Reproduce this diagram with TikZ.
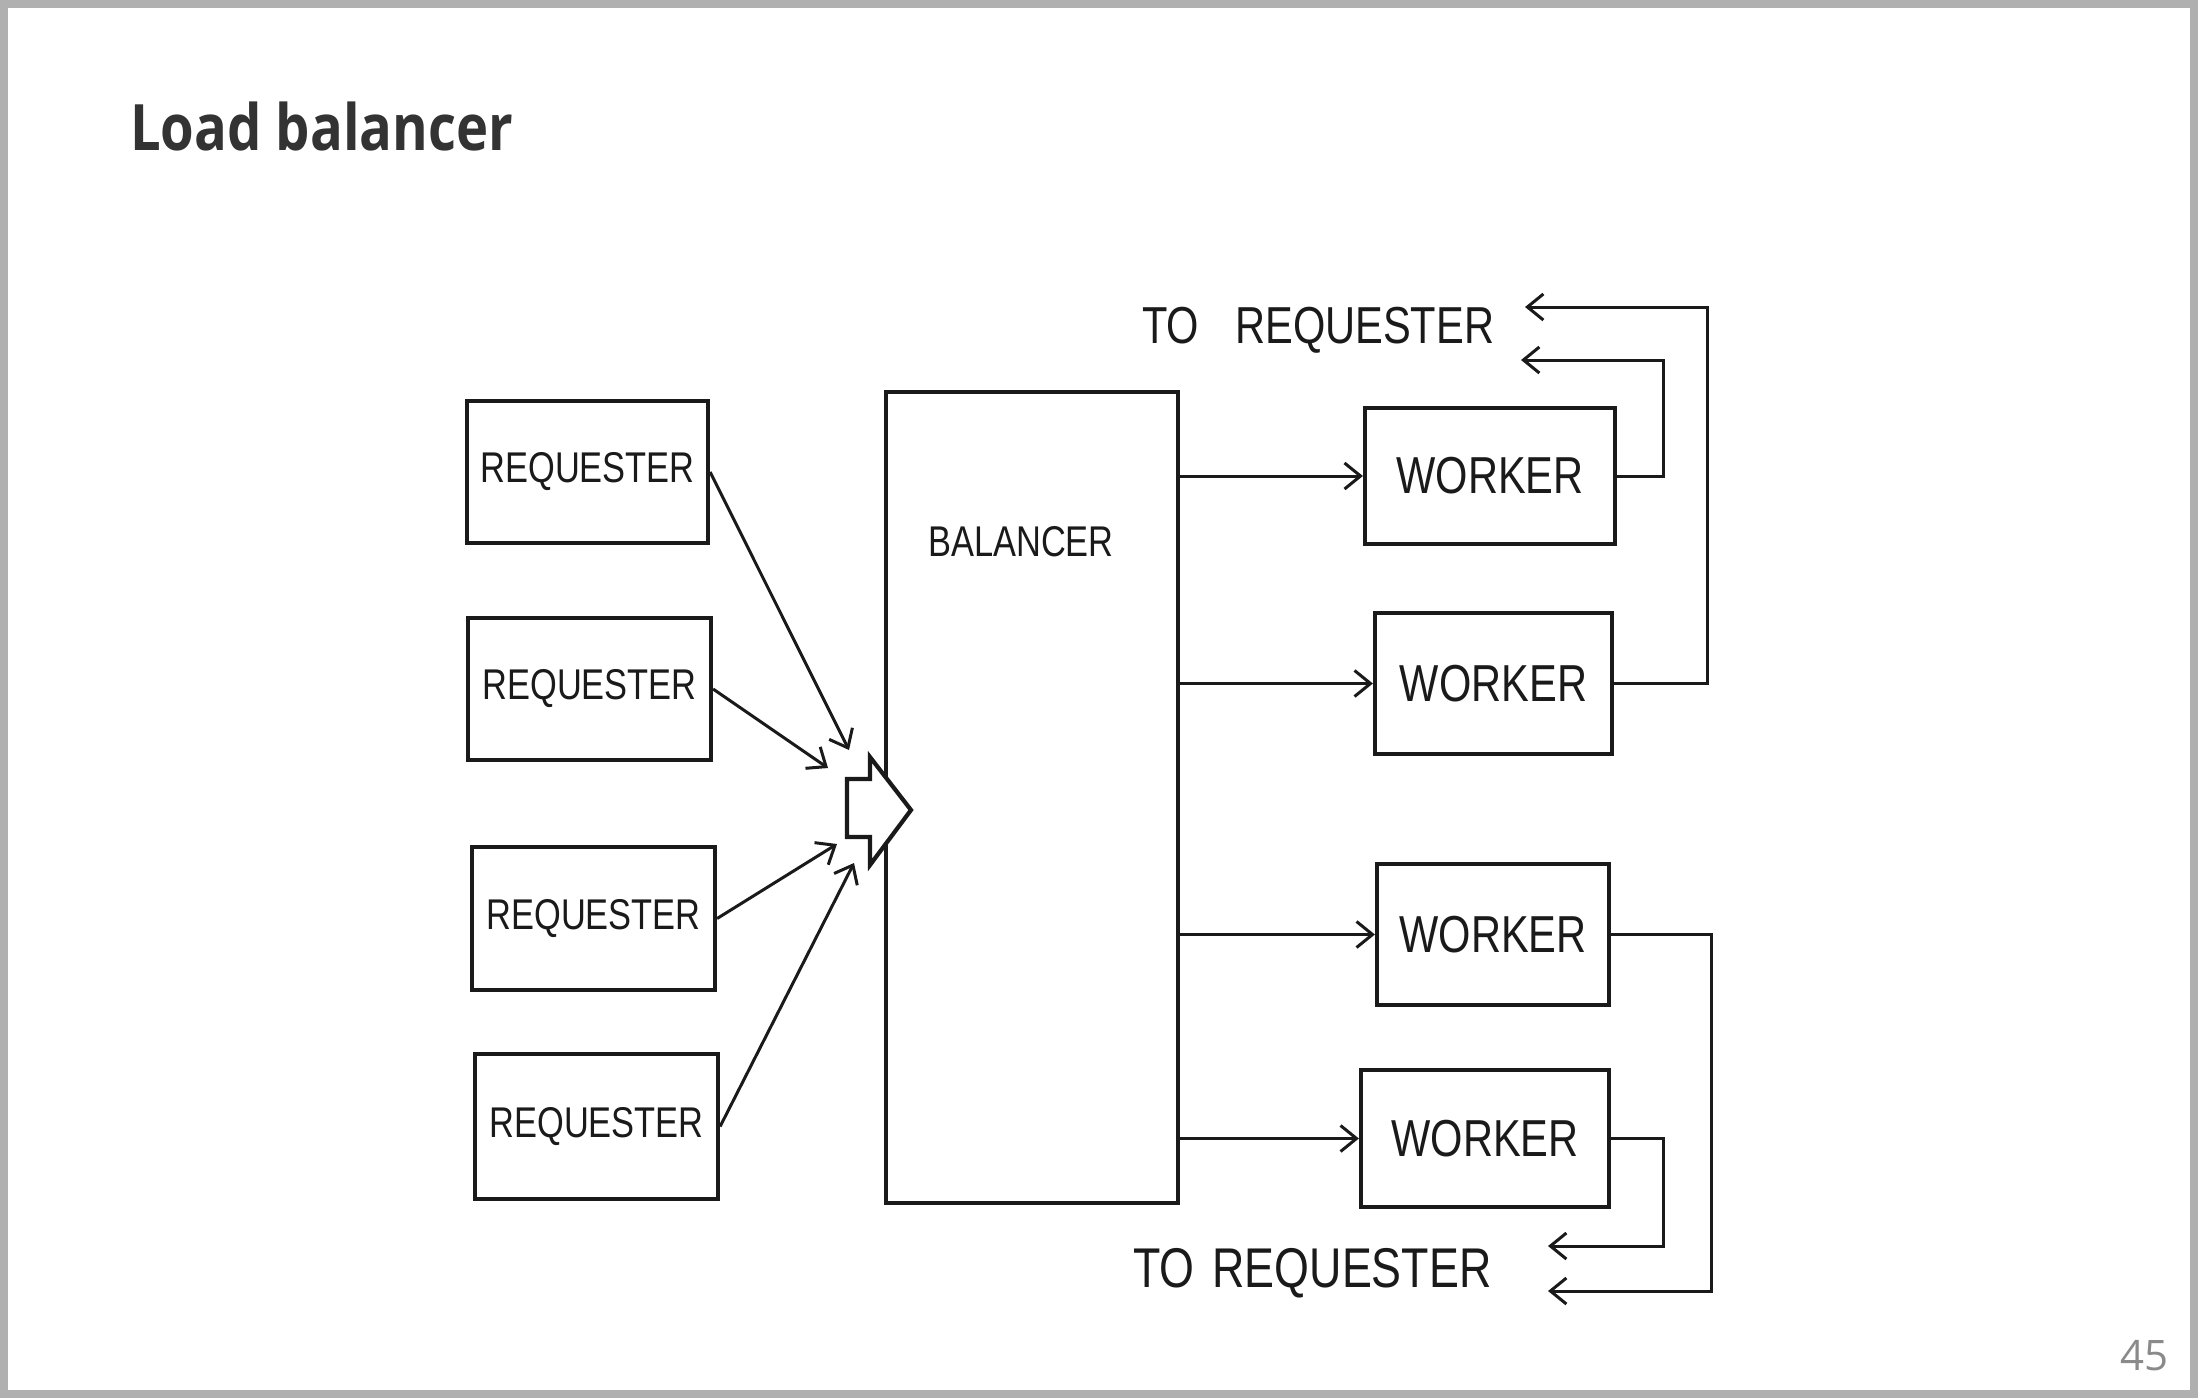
\documentclass[tikz,border=0pt]{standalone}
\usepackage{fontspec}
\setmainfont{Open Sans}
\newfontfamily\titlefont[FakeStretch=0.85]{Open Sans}
\newfontfamily\hand[FakeStretch=0.8]{Liberation Sans}
\usetikzlibrary{arrows.meta}
\definecolor{ink}{HTML}{1A1A1A}
\definecolor{framec}{HTML}{B0B0B0}
\definecolor{titlec}{HTML}{333333}
\definecolor{pagenum}{HTML}{8A8A8A}
\begin{document}
\begin{tikzpicture}[x=1pt,y=-1pt,
  box/.style={draw=ink, line width=4.2pt, inner sep=0pt, text=ink,
    font=\hand\fontsize{43pt}{43pt}\selectfont},
  wbox/.style={box, font=\hand\fontsize{52pt}{52pt}\selectfont},
  handtext/.style={inner sep=0pt, text=ink},
  conn/.style={draw=ink, line width=3pt, line join=miter,
    -{Straight Barb[length=16pt,width=26pt,line width=3pt]}}]
\useasboundingbox (0,0) rectangle (2198,1398);
\fill[white] (0,0) rectangle (2198,1398);
\draw[framec, line width=8pt] (4,4) rectangle (2194,1394);

% title and page number
\node[anchor=base west, inner sep=0pt, text=titlec,
  font=\titlefont\bfseries\fontsize{64pt}{64pt}\selectfont] (title) at (130,150) {Load balancer};
\node[anchor=base east, inner sep=0pt, text=pagenum,
  font=\fontsize{42pt}{42pt}\selectfont] (pg) at (2169,1370) {45};

% requesters
\node[box, minimum width=241pt, minimum height=142pt] (R1) at (587.5,472) {REQUESTER};
\node[box, minimum width=243pt, minimum height=142pt] (R2) at (589.5,689) {REQUESTER};
\node[box, minimum width=243pt, minimum height=143pt] (R3) at (593.5,918.5) {REQUESTER};
\node[box, minimum width=243pt, minimum height=145pt] (R4) at (596.5,1126.5) {REQUESTER};

% balancer
\node[box, minimum width=292pt, minimum height=811pt] (bal) at (1032,797.5) {};
\node[handtext, font=\hand\fontsize{43pt}{43pt}\selectfont] (balt) at (1021,542) {BALANCER};

% fat input arrow
\draw[ink, line width=4.2pt, line join=miter, fill=white]
  (847,779) -- (870,779) -- (870,757) -- (911,810) -- (870,865) -- (870,837) -- (847,837) -- cycle;

\coordinate (a1) at (849,750);
\coordinate (a2) at (828,768);
\coordinate (a3) at (837,844);
\coordinate (a4) at (854,863);
\draw[conn] (R1.east) -- (a1);
\draw[conn] (R2.east) -- (a2);
\draw[conn] (R3.east) -- (a3);
\draw[conn] (R4.east) -- (a4);

% workers
\node[wbox, minimum width=250pt, minimum height=136pt] (W1) at (1490,476) {WORKER};
\node[wbox, minimum width=237pt, minimum height=141pt] (W2) at (1493.5,683.5) {WORKER};
\node[wbox, minimum width=232pt, minimum height=141pt] (W3) at (1493,934.5) {WORKER};
\node[wbox, minimum width=248pt, minimum height=137pt] (W4) at (1485,1138.5) {WORKER};

\draw[conn] (bal.east |- W1.west) -- (W1.west);
\draw[conn] (bal.east |- W2.west) -- (W2.west);
\draw[conn] (bal.east |- W3.west) -- (W3.west);
\draw[conn] (bal.east |- W4.west) -- (W4.west);

% returns
\coordinate (t1) at (1521,360);
\coordinate (t2) at (1525,307);
\coordinate (t3) at (1548,1291);
\coordinate (t4) at (1548,1246);
\draw[conn] (W1.east) -- ++(46,0) |- (t1);
\draw[conn] (W2.east) -- ++(93,0) |- (t2);
\draw[conn] (W3.east) -- ++(100,0) |- (t3);
\draw[conn] (W4.east) -- ++(52,0) |- (t4);

\node[handtext, anchor=base west, font=\hand\fontsize{52pt}{52pt}\selectfont] (lt) at (1142,343) {TO\hspace{36pt}REQUESTER};
\node[handtext, anchor=base west, font=\hand\fontsize{56pt}{56pt}\selectfont] (lb) at (1133,1287) {TO\hspace{18pt}REQUESTER};
\end{tikzpicture}
\end{document}
